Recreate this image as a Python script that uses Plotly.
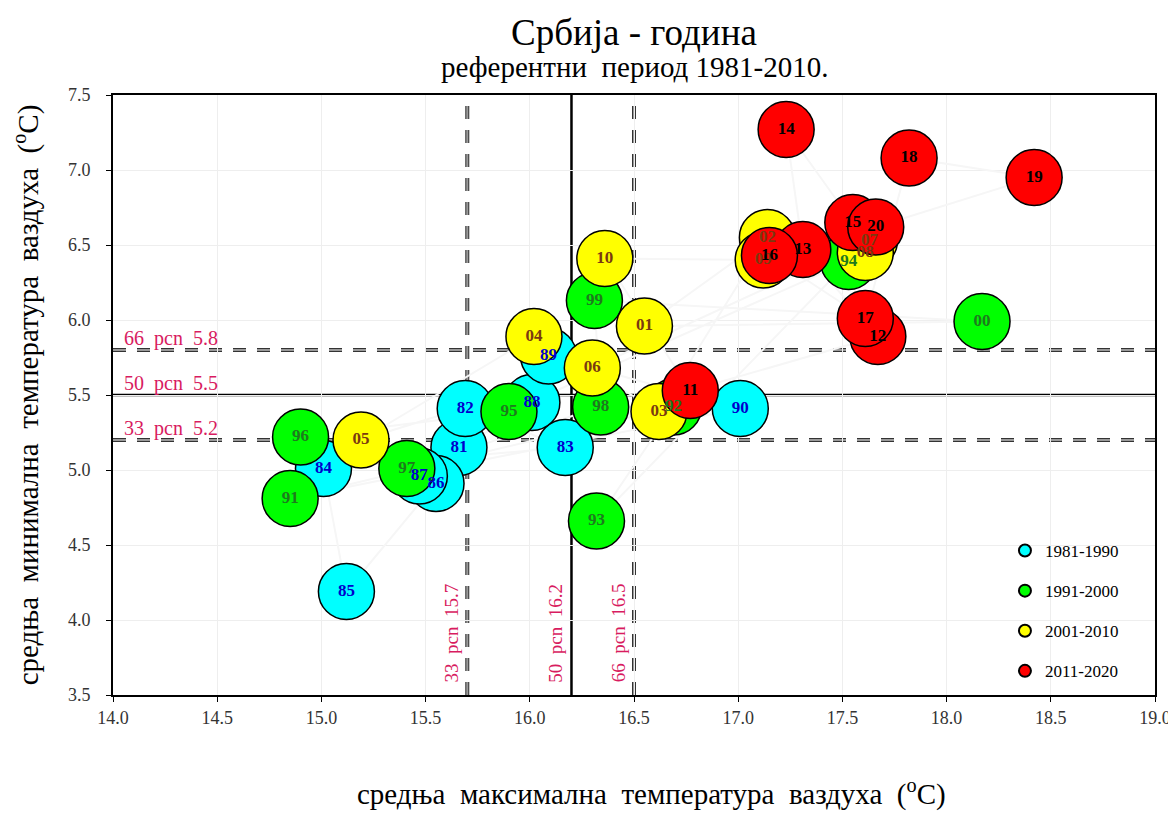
import plotly.graph_objects as go

years = list(range(1981, 2021))
tmax = [15.66, 15.69, 16.17, 15.01, 15.12, 15.55, 15.47, 16.01, 16.09, 17.01,
        14.85, 16.69, 16.32, 17.53, 15.90, 14.90, 15.41, 16.34, 16.31, 18.17,
        16.55, 17.14, 16.62, 16.02, 15.19, 16.30, 17.63, 17.61, 17.12, 16.36,
        16.77, 17.67, 17.31, 17.23, 17.55, 17.15, 17.61, 17.82, 18.42, 17.66]
tmin = [5.15, 5.41, 5.15, 5.01, 4.19, 4.91, 4.96, 5.45, 5.76, 5.41,
        4.81, 5.42, 4.66, 6.39, 5.39, 5.22, 5.01, 5.42, 6.13, 5.99,
        5.96, 6.55, 5.39, 5.89, 5.20, 5.68, 6.53, 6.45, 6.40, 6.41,
        5.53, 5.89, 6.47, 7.27, 6.65, 6.43, 6.01, 7.08, 6.95, 6.62]

decades = ["1981-1990", "1991-2000", "2001-2010", "2011-2020"]
fill_colors = ["#00FFFF", "#00FF00", "#FFFF00", "#FF0000"]
text_colors = ["#0000CC", "#1E7A1E", "#7A3A10", "#000000"]

pct_x = [15.7, 16.2, 16.5]
pct_y = [5.2, 5.5, 5.8]
pct_names = ["33", "50", "66"]

serif = "Liberation Serif"
nb = "\u00a0"
fig = go.Figure()

# faint chronological line
fig.add_trace(go.Scatter(x=tmax, y=tmin, mode="lines",
                         line=dict(color="#f6f6f6", width=2),
                         showlegend=False, hoverinfo="skip"))

def idx_for(d):
    return [i for i, yv in enumerate(years) if (yv - 1981) // 10 == d]

for d, name in enumerate(decades):
    ids = idx_for(d)
    fig.add_trace(go.Scatter(
        x=[tmax[i] for i in ids], y=[tmin[i] for i in ids],
        mode="markers", name=name, legendgroup=name,
        marker=dict(size=56, color=fill_colors[d],
                    line=dict(color="black", width=1.5)),
    ))

for d, name in enumerate(decades):
    ids = idx_for(d)
    fig.add_trace(go.Scatter(
        x=[tmax[i] for i in ids], y=[tmin[i] for i in ids],
        mode="text", text=["%02d" % (years[i] % 100) for i in ids],
        texttemplate="<b>%{text}</b>",
        textfont=dict(family=serif, size=17, color=text_colors[d]),
        showlegend=False, hoverinfo="skip",
    ))

shapes = []
dash_pat = "13px,11px"
for i, v in enumerate(pct_x):
    if pct_names[i] == "50":
        shapes.append(dict(type="line", xref="x", yref="paper", x0=v, x1=v, y0=0, y1=1,
                           line=dict(color="black", width=2.5)))
    else:
        shapes.append(dict(type="line", xref="x", yref="paper", x0=v, x1=v, y0=0, y1=1,
                           line=dict(color="#333333", width=4, dash=dash_pat)))
        shapes.append(dict(type="line", xref="x", yref="paper", x0=v, x1=v, y0=0, y1=1,
                           line=dict(color="#9a9a9a", width=2, dash=dash_pat)))
for i, v in enumerate(pct_y):
    if pct_names[i] == "50":
        shapes.append(dict(type="line", xref="paper", yref="y", x0=0, x1=1, y0=v, y1=v,
                           line=dict(color="black", width=2.5)))
    else:
        shapes.append(dict(type="line", xref="paper", yref="y", x0=0, x1=1, y0=v, y1=v,
                           line=dict(color="#333333", width=4, dash=dash_pat)))
        shapes.append(dict(type="line", xref="paper", yref="y", x0=0, x1=1, y0=v, y1=v,
                           line=dict(color="#9a9a9a", width=2, dash=dash_pat)))
for s in shapes:
    s["layer"] = "below"

ann_color = "#D81B60"
annotations = []
for i, v in enumerate(pct_y):
    annotations.append(dict(
        x=0.009, xref="paper", y=v, yref="y", xanchor="left", yanchor="bottom",
        text=f"{pct_names[i]}{nb} pcn{nb} {v:.1f}", showarrow=False, yshift=-2,
        font=dict(family=serif, size=20, color=ann_color)))
for i, v in enumerate(pct_x):
    annotations.append(dict(
        x=v, xref="x", y=0.018, yref="paper", xanchor="right", yanchor="bottom",
        text=f"{pct_names[i]}{nb} pcn{nb} {v:.1f}", showarrow=False, textangle=-90,
        xshift=-3, font=dict(family=serif, size=19, color=ann_color)))
annotations.append(dict(x=0.5, xref="paper", y=1.105, yref="paper", yanchor="middle",
                        text="Србија - година", showarrow=False,
                        font=dict(family=serif, size=37, color="black")))
annotations.append(dict(x=0.5, xref="paper", y=1.046, yref="paper", yanchor="middle",
                        text=f"референтни{nb} период 1981-2010.", showarrow=False,
                        font=dict(family=serif, size=29, color="black")))

xt = f"средња{nb} максимална{nb} температура{nb} ваздуха{nb} (<sup>o</sup>C)"
yt = f"средња{nb} минимална{nb} температура{nb} ваздуха{nb} (<sup>o</sup>C)"

annotations.append(dict(x=0.517, xref="paper", y=-0.163, yref="paper",
                        xanchor="center", yanchor="middle", text=xt, showarrow=False,
                        font=dict(family=serif, size=29, color="black")))

# page body has an 8px margin: shrink the figure so the plot lands where the reference has it
fig.update_layout(
    width=1168, height=805,
    margin=dict(l=105, r=21, t=87, b=118),
    paper_bgcolor="white", plot_bgcolor="white",
    shapes=shapes, annotations=annotations,
    font=dict(family=serif, color="black"),
    legend=dict(x=0.856, y=0.27, xanchor="left", yanchor="top",
                font=dict(family=serif, size=17, color="black"),
                tracegroupgap=15, bgcolor="rgba(0,0,0,0)", itemsizing="constant"),
    xaxis=dict(range=[14, 19], dtick=0.5, tickformat=".1f", automargin=False,
               showgrid=True, gridcolor="#eeeeee", zeroline=False,
               showline=True, linecolor="black", linewidth=2, mirror=True,
               ticks="outside", ticklen=5, tickcolor="black",
               tickfont=dict(family=serif, size=18, color="#333333")),
    yaxis=dict(range=[3.5, 7.5], dtick=0.5, tickformat=".1f", automargin=False,
               showgrid=True, gridcolor="#eeeeee", zeroline=False,
               showline=True, linecolor="black", linewidth=2, mirror=True,
               ticks="outside", ticklen=5, tickcolor="black", ticklabelstandoff=12,
               tickfont=dict(family=serif, size=18, color="#333333"),
               title=dict(text=yt, font=dict(family=serif, size=29, color="black"), standoff=30)),
)

fig.write_html("out.html")
